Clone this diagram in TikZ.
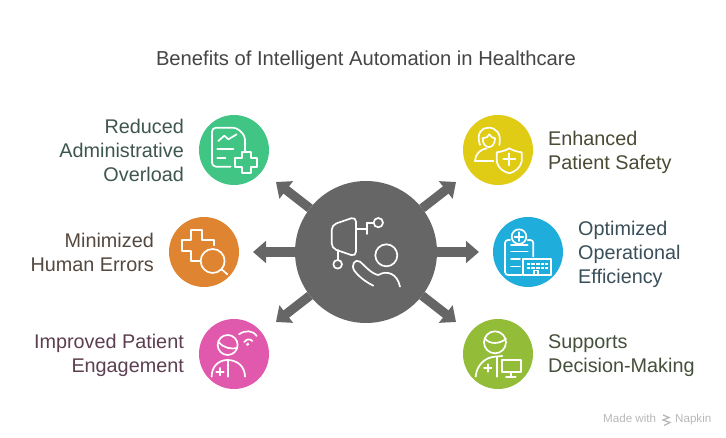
\documentclass[tikz,border=0pt]{standalone}
\usepackage{fontspec}
\setmainfont{Liberation Sans}
\usetikzlibrary{arrows.meta}
\definecolor{cgreen}{HTML}{40C585}
\definecolor{corange}{HTML}{DF8531}
\definecolor{cyellow}{HTML}{E0CB15}
\definecolor{cblue}{HTML}{1FADDB}
\definecolor{cpink}{HTML}{E159AC}
\definecolor{clime}{HTML}{93BC38}
\definecolor{chub}{HTML}{666666}
\definecolor{tadminc}{HTML}{3F5550}
\definecolor{terrorsc}{HTML}{54483F}
\definecolor{tengagec}{HTML}{5C3F50}
\definecolor{tsafetyc}{HTML}{4B4A35}
\definecolor{teffic c}{HTML}{3A4F5A}
\definecolor{tdecidec}{HTML}{45503A}
\tikzset{
  x=1pt,y=-1pt,
  disc/.style={circle,fill=#1,minimum size=70pt,inner sep=0pt,outer sep=0pt},
  flow/.style={draw=chub,line width=9.2pt,-{Triangle[length=13pt,width=21.5pt]}},
  lab/.style={font=\fontsize{19.8}{24}\selectfont,inner sep=0pt,text=#1},
  ico/.style={draw=white,line width=1.7pt,line cap=round,line join=round},
  zoomed/.style={shift={(#1)},x=0.3333pt,y=-0.3333pt},
  foot/.style={font=\fontsize{11.6}{13}\selectfont,text=black!28,inner sep=0pt,anchor=base west},
}
\begin{document}
\begin{tikzpicture}
\useasboundingbox[fill=white] (0,0) rectangle (726,438);
\node[font=\fontsize{20.2}{24}\selectfont,text=black!73,inner sep=0pt] (title) at (366,60) {Benefits of Intelligent Automation in Healthcare};

\node[circle,fill=chub,minimum size=142pt,inner sep=0pt,outer sep=0pt] (hub) at (366,252) {};
\node[disc=cgreen]  (admin)  at (234,150) {};
\node[disc=corange] (errors) at (204,252) {};
\node[disc=cpink]   (engage) at (234,354) {};
\node[disc=cyellow] (safety) at (498,150) {};
\node[disc=cblue]   (effic)  at (528,252) {};
\node[disc=clime]   (decide) at (498,354) {};

\coordinate (tadmin)  at (276,182);
\coordinate (terrors) at (253,252);
\coordinate (tengage) at (276,322);
\coordinate (tsafety) at (456,182);
\coordinate (teffic)  at (479,252);
\coordinate (tdecide) at (456,322);
\foreach \t in {tadmin,terrors,tengage,tsafety,teffic,tdecide}
  \draw[flow] (hub) -- (\t);

\node[lab=tadminc,anchor=east,align=right] (ladmin) at (184,150) {Reduced\\Administrative\\Overload};
\node[lab=terrorsc,anchor=east,align=right] (lerrors) at (154,252) {Minimized\\Human Errors};
\node[lab=tengagec,anchor=east,align=right] (lengage) at (184,355.5) {Improved Patient\\Engagement};
\node[lab=tsafetyc,anchor=west,align=left] (lsafety) at (548,152) {Enhanced\\Patient Safety};
\node[lab=teffic c,anchor=west,align=left] (leffic) at (578,254) {Optimized\\Operational\\Efficiency};
\node[lab=tdecidec,anchor=west,align=left] (ldecide) at (548,356) {Supports\\Decision-Making};

% hub icon
\begin{scope}[zoomed={280,170},ico]
  \draw[rounded corners=5pt] (155,165) -- (228,140) -- (228,260) -- (155,235) -- cycle;
  \draw (228,178) -- (260,178) (260,158) -- (260,192) (260,158) -- (281,158);
  \draw (295,158) circle[radius=14];
  \draw (173,240) -- (173,269);
  \draw (173,283) circle[radius=13];
  \draw (319,256) circle[radius=33];
  \draw (280,347) .. controls (255,335) and (235,318) .. (223,302) .. controls (212,285) and (225,265) .. (240,275) .. controls (255,288) and (275,312) .. (295,315) .. controls (320,300) and (352,310) .. (360,350);
\end{scope}

% admin icon
\begin{scope}[zoomed={190,105},ico]
  \draw[rounded corners=4pt] (122,185) -- (66,185) -- (66,68) -- (140,68) -- (165,92) -- (165,140);
  \draw (85,108) -- (103,92) -- (115,103) -- (140,88);
  \draw (82,131) -- (130,131) (82,158) -- (106,158);
  \draw (155,142) -- (183,142) -- (183,160) -- (202,160) -- (202,187) -- (183,187) -- (183,204) -- (155,204) -- (155,187) -- (136,187) -- (136,160) -- (155,160) -- cycle;
\end{scope}

% errors icon
\begin{scope}[zoomed={165,212},ico]
  \draw (147,100) -- (147,83) -- (110,83) -- (110,53) -- (78,53) -- (78,83) -- (50,83) -- (50,118) -- (78,118) -- (78,148) -- (105,148);
  \draw (143,147) circle[radius=36];
  \draw (170,172) -- (187,187);
\end{scope}

% engagement icon
\begin{scope}[zoomed={190,280},ico]
  \draw (113,195) circle[radius=30];
  \draw (85,185) .. controls (100,205) and (125,208) .. (142,204);
  \draw (65,290) .. controls (65,260) and (85,240) .. (113,240) .. controls (142,240) and (165,260) .. (165,290);
  \draw (115,240) -- (115,290);
  \draw (79,275) -- (101,275) (90,264) -- (90,286);
  \draw (147,163) .. controls (165,150) and (188,150) .. (200,168);
  \draw (163,186) .. controls (170,176) and (180,176) .. (187,183);
  \fill[white] (173,193) circle[radius=5];
\end{scope}

% safety icon
\begin{scope}[zoomed={450,105},ico]
  \draw (90,120) .. controls (78,85) and (95,68) .. (115,68) .. controls (138,68) and (155,85) .. (148,120);
  \draw (98,100) .. controls (108,100) and (115,95) .. (118,88) .. controls (122,95) and (128,100) .. (135,100);
  \draw (98,100) .. controls (98,135) and (135,135) .. (135,100);
  \draw (75,168) .. controls (75,148) and (92,132) .. (110,130);
  \draw (75,168) -- (130,168);
  \draw (140,142) .. controls (155,140) and (168,136) .. (178,130) .. controls (188,136) and (200,140) .. (215,142) -- (215,170) .. controls (210,190) and (195,200) .. (178,205) .. controls (160,200) and (145,190) .. (140,170) -- cycle;
  \draw (160,163) -- (196,163) (178,145) -- (178,181);
\end{scope}

% efficiency icon
\begin{scope}[zoomed={450,105},ico]
  \draw (207,395) circle[radius=22];
  \draw (194,395) -- (220,395) (207,382) -- (207,408);
  \draw[rounded corners=3pt] (180,405) -- (165,405) -- (165,510) -- (215,510);
  \draw[rounded corners=3pt] (233,405) -- (250,405) -- (250,455);
  \draw (183,420) -- (233,420) (183,440) -- (233,440) (183,463) -- (210,463) (183,485) -- (210,485);
  \draw (220,463) rectangle (303,510);
  \draw[dash pattern=on 3.5pt off 1.2pt,line cap=butt] (230,478) -- (295,478) (230,490) -- (295,490);
  \draw (253,510) -- (253,497) -- (265,497) -- (265,510);
\end{scope}

% decision icon
\begin{scope}[zoomed={420,280},ico]
  \draw (225,187) circle[radius=33];
  \draw (194,175) .. controls (210,195) and (240,192) .. (258,176);
  \draw (167,290) .. controls (170,255) and (195,232) .. (225,230) -- (247,228);
  \draw (230,232) -- (230,290);
  \draw (192,264) -- (214,264) (203,253) -- (203,275);
  \draw (247,240) rectangle (302,277);
  \draw (272,277) -- (272,290) (258,290) -- (287,290);
\end{scope}

% footer
\node[foot] (made) at (603,423) {Made with};
\node[foot] (napkin) at (675,423) {Napkin};
\draw[black!28,line width=1.3pt] (663,415) -- (669,417.5) -- (663,420) -- (670,422.5) -- (664,425.5);
\end{tikzpicture}
\end{document}
